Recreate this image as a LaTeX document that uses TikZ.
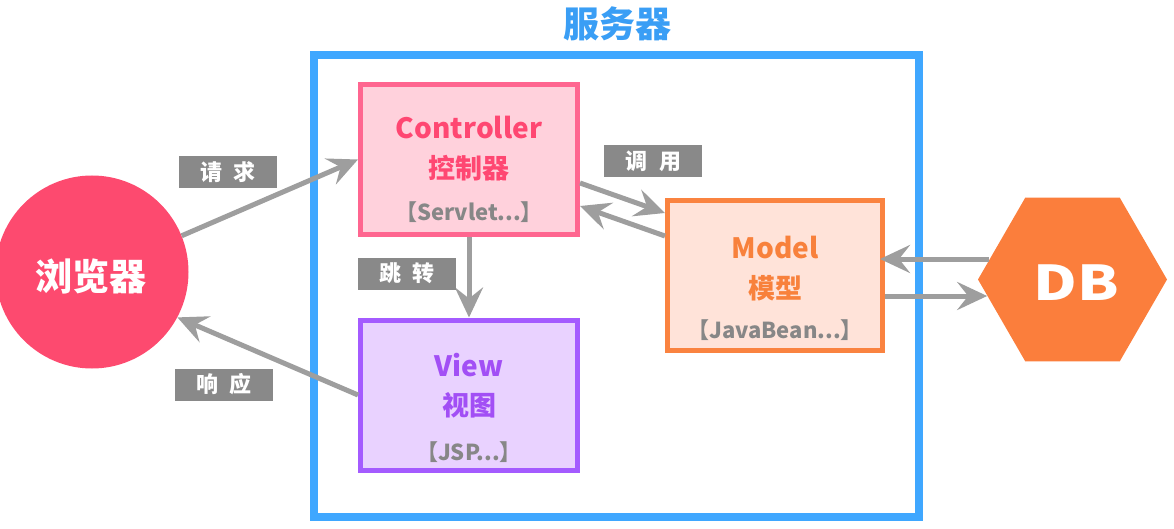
\documentclass[tikz,border=0pt]{standalone}
\usepackage{fontspec}
\setmainfont{Noto Sans CJK SC}
\usetikzlibrary{arrows.meta,shapes.geometric,calc}
\definecolor{srvblue}{HTML}{3FA7FF}
\definecolor{ttlblue}{HTML}{3A9EF5}
\definecolor{brpink}{HTML}{FD4A6F}
\definecolor{ctrlbd}{HTML}{FF6690}
\definecolor{ctrlfill}{HTML}{FFD1DC}
\definecolor{ctrltxt}{HTML}{FF4772}
\definecolor{modbd}{HTML}{FA8340}
\definecolor{modfill}{HTML}{FFE3D9}
\definecolor{modtxt}{HTML}{F8813C}
\definecolor{viewbd}{HTML}{A45BFF}
\definecolor{viewfill}{HTML}{E9D2FF}
\definecolor{viewtxt}{HTML}{A24FF5}
\definecolor{dbor}{HTML}{FB7E3C}
\definecolor{arrgray}{HTML}{9E9E9E}
\definecolor{lblgray}{HTML}{898989}
\definecolor{subgray}{HTML}{878787}
\tikzset{
  mvcbox/.style={draw, line width=5pt, minimum width=217pt, minimum height=150pt, inner sep=0pt},
  bigtxt/.style={font=\bfseries\fontsize{28}{30}\selectfont, inner sep=0pt},
  cntxt/.style={font=\bfseries\fontsize{27}{30}\selectfont, inner sep=0pt},
  subtxt/.style={font=\bfseries\fontsize{22}{24}\selectfont, text=subgray, inner sep=0pt},
  lbl/.style={fill=lblgray, text=white, minimum width=98pt, minimum height=32pt, inner sep=0pt, font=\bfseries\fontsize{22}{24}\selectfont},
  conn/.style={draw=arrgray, line width=5pt, -{Stealth[length=30pt,width=28pt,inset=11pt]}}
}
\begin{document}
\begin{tikzpicture}[x=1pt,y=-1pt]
\useasboundingbox (0,0) rectangle (1174,529);
% server frame
\node[draw=srvblue, line width=8pt, minimum width=605pt, minimum height=462pt, inner sep=0pt] (server) at (616.5,286) {};
\node[font=\bfseries\fontsize{36}{40}\selectfont, text=ttlblue, inner sep=0pt] (title) at (617,24) {服务器};
% browser
\node[circle, fill=brpink, minimum size=193pt, inner sep=0pt] (browser) at (92,272) {};
\node[font=\bfseries\fontsize{37}{40}\selectfont, text=white, inner sep=0pt] (browsertxt) at (91,276) {浏览器};
% controller
\node[mvcbox, draw=ctrlbd, fill=ctrlfill] (ctrl) at (469,159.5) {};
\node[bigtxt, text=ctrltxt] (ctrlA) at ([yshift=31.5pt]ctrl.center) {Controller};
\node[cntxt, text=ctrltxt] (ctrlB) at ([yshift=-9pt]ctrl.center) {控制器};
\node[subtxt] (ctrlC) at ([yshift=-53pt]ctrl.center) {【Servlet...】};
% view
\node[mvcbox, draw=viewbd, fill=viewfill] (view) at (469,395) {};
\node[bigtxt, text=viewtxt] (viewA) at ([yshift=30pt]view.center) {View};
\node[cntxt, text=viewtxt] (viewB) at ([yshift=-10pt]view.center) {视图};
\node[subtxt] (viewC) at ([yshift=-57pt]view.center) {【JSP...】};
% model
\node[mvcbox, draw=modbd, fill=modfill, minimum width=215pt] (model) at (775,275.5) {};
\node[bigtxt, text=modtxt] (modelA) at ([yshift=27.5pt]model.center) {Model};
\node[cntxt, text=modtxt] (modelB) at ([yshift=-12.5pt]model.center) {模型};
\node[subtxt] (modelC) at ([yshift=-54.5pt]model.center) {【JavaBean...】};
% DB
\node[regular polygon, regular polygon sides=6, fill=dbor, minimum size=189pt, inner sep=0pt] (db) at (1072.5,279.5) {};
\node[font=\bfseries\fontsize{48}{50}\selectfont, text=white, inner sep=0pt, xscale=1.25] (dbtxt) at (1076,283) {DB};
% connectors
\draw[conn] (browser.22) -- (ctrl.west);
\draw[conn] (view.west) -- (browser.-28);
\draw[conn] (ctrl.south) -- (view.north);
\draw[conn] ([yshift=-23.5pt]ctrl.east) -- ([yshift=62.5pt]model.west);
\draw[conn] ([yshift=39.5pt]model.west) -- ([yshift=-46.5pt]ctrl.east);
\draw[conn] ([xshift=11.7pt,yshift=20.5pt]db.west) -- ([xshift=-5pt,yshift=16.5pt]model.east);
\draw[conn] ([yshift=-20.5pt]model.east) -- ([xshift=9.4pt,yshift=-16.5pt]db.west);
% labels
\node[lbl] (lreq) at (228,172) {请\hspace{12pt}求};
\node[lbl] (lresp) at (224,384.5) {响\hspace{12pt}应};
\node[lbl] (lcall) at (653,161.5) {调\hspace{12pt}用};
\node[lbl] (ljump) at (407,273.5) {跳\hspace{12pt}转};
\end{tikzpicture}
\end{document}
